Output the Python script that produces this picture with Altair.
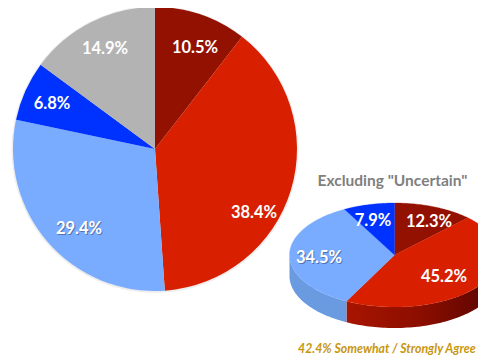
import altair as alt
import numpy as np
import pandas as pd

# Main pie
main_labels = ["10.5%", "38.4%", "29.4%", "6.8%", "14.9%"]
main_values = [10.5, 38.4, 29.4, 6.8, 14.9]
main_colors = ["#931100", "#d82000", "#79abff", "#0032ff", "#b3b3b3"]
main_label_x = [195, 254, 79, 52, 105]
main_label_y = [46, 211, 227, 102, 47]

# Secondary pie
sub_labels = ["12.3%", "45.2%", "34.5%", "7.9%"]
sub_values = [12.3, 45.2, 34.5, 7.9]
sub_colors = ["#931100", "#d82000", "#79abff", "#0032ff"]
sub_label_x = [429, 444, 319, 373]
sub_label_y = [220, 275, 256, 219]

OFF = 8
W, H = 470, 348
CX, CY, R = 155 - OFF, 149 - OFF, 142
EX, EY, RX, RY, DEPTH = 394.5 - OFF, 255 - OFF, 105, 52, 21

xs = alt.Scale(domain=[0, W], range=[0, W], nice=False, zero=False)
ys = alt.Scale(domain=[0, H], range=[0, H], nice=False, zero=False)
X = lambda f: alt.X(f, type="quantitative", scale=xs, axis=None)
Y = lambda f: alt.Y(f, type="quantitative", scale=ys, axis=None)

main_df = pd.DataFrame({
    "i": range(len(main_values)), "v": main_values, "c": main_colors,
})
shadow = alt.Chart(main_df).mark_arc(radius=143.5, color="#000000", opacity=0.07).encode(
    theta=alt.Theta("sum(v):Q", stack=True),
    x=alt.value(CX), y=alt.value(CY + 0.5))
pie = alt.Chart(main_df).mark_arc(radius=R).encode(
    theta=alt.Theta("v:Q", stack=True),
    order=alt.Order("i:Q"),
    color=alt.Color("c:N", scale=None),
    x=alt.value(CX), y=alt.value(CY))


def ell_points(a0, a1, n=60):
    t = np.radians(np.linspace(a0, a1, n))
    return EX + RX * np.sin(t), EY - RY * np.cos(t)


sub_frac = np.array(sub_values) / sum(sub_values) * 360
starts = np.concatenate([[0], np.cumsum(sub_frac)[:-1]])
ends = np.cumsum(sub_frac)

rows = []
for k, (a0, a1) in enumerate(zip(starts, ends)):
    px, py = ell_points(a0, a1)
    rows.append((k, 0, EX, EY, sub_colors[k]))
    for j, (u, w) in enumerate(zip(px, py)):
        rows.append((k, j + 1, u, w, sub_colors[k]))
    rows.append((k, 999, EX, EY, sub_colors[k]))
top_df = pd.DataFrame(rows, columns=["k", "o", "x", "y", "c"])

tops = []
for k, col in enumerate(sub_colors):
    tops.append(
        alt.Chart(top_df[top_df.k == k]).mark_line(fill=col, stroke=col, strokeWidth=0.3, clip=True).encode(
            x=X("x"), y=Y("y"), order=alt.Order("o:Q"))
    )


def wall(a0, a1, stops):
    px, py = ell_points(a0, a1, 80)
    d = pd.DataFrame({"x": px, "y": py, "y2": py + DEPTH})
    return alt.Chart(d).mark_area(
        clip=True,
        fill=alt.Gradient(
            gradient="linear", x1=0, y1=0, x2=1, y2=0,
            stops=[alt.GradientStop(offset=o, color=c) for o, c in stops],
        ),
    ).encode(x=X("x"), y=Y("y"), y2="y2:Q")


split = ends[1]
walls = [
    wall(90, split, [(0, "#a81400"), (0.5, "#8a0e00"), (1, "#560400")]),
    wall(split, 270, [(0, "#6a9be0"), (1, "#6a9be0")]),
]


def labels(txt, xs_, ys_):
    d = pd.DataFrame({"t": txt, "x": xs_, "y": ys_})
    d["x"] -= OFF
    d["y"] -= OFF
    return d


lab_main = labels(main_labels, main_label_x, main_label_y)
lab_sub = labels(sub_labels, sub_label_x, sub_label_y)
lab_all = pd.concat([lab_main, lab_sub])
txt_kw = dict(font="Lato", fontWeight="bold", fontSize=16.5, align="center", baseline="middle", clip=True)
text_shadow = alt.Chart(lab_all[lab_all.t.isin(["29.4%", "34.5%"])]).mark_text(
    color="#2a3f66", opacity=0.5, dx=1, dy=3, **txt_kw
).encode(x=X("x"), y=Y("y"), text="t:N")
text = alt.Chart(lab_all).mark_text(color="#ffffff", dy=1.5, **txt_kw).encode(
    x=X("x"), y=Y("y"), text="t:N")

title_df = pd.DataFrame({"t": ['Excluding "Uncertain"'], "x": [392.5 - OFF], "y": [181 - OFF]})
title = alt.Chart(title_df).mark_text(
    font="Lato", fontWeight="bold", fontSize=15.5, color="#7f7f7f", align="center", baseline="middle"
).encode(x=X("x"), y=Y("y"), text="t:N")

foot_df = pd.DataFrame({"t": ["42.4% Somewhat / Strongly Agree"], "x": [298 - OFF], "y": [349 - OFF]})
foot = alt.Chart(foot_df).mark_text(
    font="Lato", fontWeight="bold", fontStyle="italic", fontSize=12.3, color="#c8960f",
    align="left", baseline="middle", clip=False
).encode(x=X("x"), y=Y("y"), text="t:N")

chart = alt.layer(
    shadow, pie, *walls, *tops, text_shadow, text, title, foot
).properties(
    width=W, height=H, padding=0, autosize=alt.AutoSizeParams(type="none"), background="#ffffff"
).configure_view(stroke=None)

chart.save("out.html", embed_options={"renderer": "svg", "actions": False})
